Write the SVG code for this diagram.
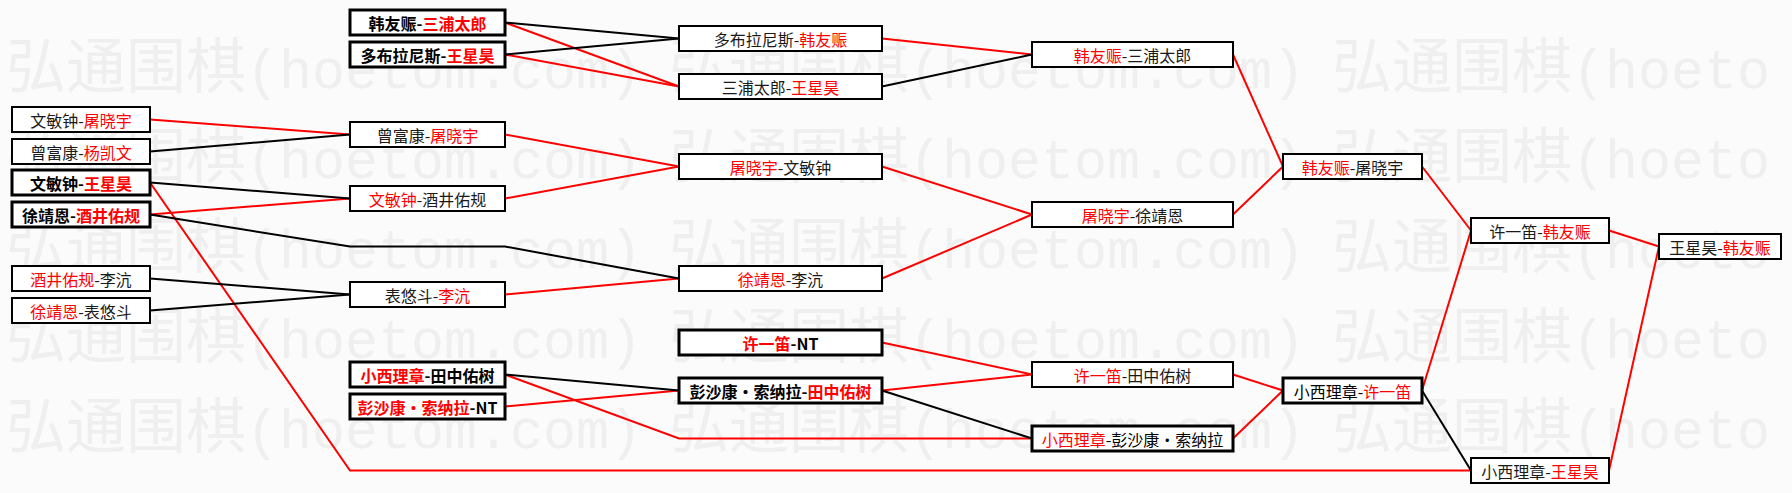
<svg xmlns="http://www.w3.org/2000/svg" width="1792" height="493" viewBox="0 0 1792 493">
<style>
.bg{fill:#fbfbfb}
.wm{fill:#efefef;font-family:"Noto Sans CJK SC",sans-serif;font-size:60px}
.wm .a{font-family:"Liberation Mono",monospace;font-size:55px}
.box{fill:#fff;stroke:#000;stroke-width:2}
.thick .box{stroke-width:3}
.lbl{font-family:"Noto Sans CJK SC",sans-serif;font-size:16px;text-anchor:middle;fill:#1a1a1a}
.thick .lbl{fill:#000}
.bold .lbl{font-weight:bold}
.r{fill:#f00}
.k{fill:none;stroke:#000;stroke-width:2}
.rd{fill:none;stroke:#f00;stroke-width:2}
</style>
<rect class="bg" x="0" y="0" width="1792" height="493"/>
<g id="watermark" class="wm">
<text y="88"><tspan x="6">弘通围棋</tspan><tspan class="a">(hoetom.com)</tspan><tspan x="669">弘通围棋</tspan><tspan class="a">(hoetom.com)</tspan><tspan x="1332">弘通围棋</tspan><tspan class="a">(hoeto</tspan></text>
<text y="178"><tspan x="6">弘通围棋</tspan><tspan class="a">(hoetom.com)</tspan><tspan x="669">弘通围棋</tspan><tspan class="a">(hoetom.com)</tspan><tspan x="1332">弘通围棋</tspan><tspan class="a">(hoeto</tspan></text>
<text y="268"><tspan x="6">弘通围棋</tspan><tspan class="a">(hoetom.com)</tspan><tspan x="669">弘通围棋</tspan><tspan class="a">(hoetom.com)</tspan><tspan x="1332">弘通围棋</tspan><tspan class="a">(hoeto</tspan></text>
<text y="358"><tspan x="6">弘通围棋</tspan><tspan class="a">(hoetom.com)</tspan><tspan x="669">弘通围棋</tspan><tspan class="a">(hoetom.com)</tspan><tspan x="1332">弘通围棋</tspan><tspan class="a">(hoeto</tspan></text>
<text y="448"><tspan x="6">弘通围棋</tspan><tspan class="a">(hoetom.com)</tspan><tspan x="669">弘通围棋</tspan><tspan class="a">(hoetom.com)</tspan><tspan x="1332">弘通围棋</tspan><tspan class="a">(hoeto</tspan></text>
</g>
<g id="connectors">
<path class="rd" d="M150 119.5L350 134.5"/>
<path class="rd" d="M150 214.5L350 198.5"/>
<path class="rd" d="M150 182.5L350 470.5L1471 470.5"/>
<path class="rd" d="M505 22.5L679 86.5"/>
<path class="rd" d="M505 54.5L679 86.5"/>
<path class="rd" d="M505 134.5L679 166.5"/>
<path class="rd" d="M505 198.5L679 166.5"/>
<path class="rd" d="M505 294.5L679 278.5"/>
<path class="rd" d="M505 374.5L679 438.5L1032 438.5"/>
<path class="rd" d="M505 406.5L679 390.5"/>
<path class="rd" d="M882 38.5L1032 54.5"/>
<path class="rd" d="M882 166.5L1032 214.5"/>
<path class="rd" d="M882 278.5L1032 214.5"/>
<path class="rd" d="M882 342.5L1032 374.5"/>
<path class="rd" d="M882 390.5L1032 374.5"/>
<path class="rd" d="M1233 54.5L1283 166.5"/>
<path class="rd" d="M1233 214.5L1283 166.5"/>
<path class="rd" d="M1233 374.5L1283 390.5"/>
<path class="rd" d="M1233 438.5L1283 390.5"/>
<path class="rd" d="M1422 166.5L1471 230.5"/>
<path class="rd" d="M1422 390.5L1471 230.5"/>
<path class="rd" d="M1609 230.5L1659 246.5"/>
<path class="rd" d="M1609 470.5L1659 246.5"/>
<path class="k" d="M150 151.5L350 134.5"/>
<path class="k" d="M150 182.5L350 198.5"/>
<path class="k" d="M150 214.5L350 246.5L505 246.5L679 278.5"/>
<path class="k" d="M150 278.5L350 294.5"/>
<path class="k" d="M150 310.5L350 294.5"/>
<path class="k" d="M505 22.5L679 38.5"/>
<path class="k" d="M505 54.5L679 38.5"/>
<path class="k" d="M505 374.5L679 390.5"/>
<path class="k" d="M882 86.5L1032 54.5"/>
<path class="k" d="M882 390.5L1032 438.5"/>
<path class="k" d="M1422 390.5L1471 470.5"/>
</g>
<g id="A1"><rect class="box" x="12" y="107" width="138" height="25"/><text class="lbl" x="81" y="127">文敏钟-<tspan class="r">屠晓宇</tspan></text></g>
<g id="A2"><rect class="box" x="12" y="139" width="138" height="25"/><text class="lbl" x="81" y="159">曾富康-<tspan class="r">杨凯文</tspan></text></g>
<g id="A3" class="thick bold"><rect class="box" x="12" y="170" width="138" height="25"/><text class="lbl" x="81" y="190">文敏钟-<tspan class="r">王星昊</tspan></text></g>
<g id="A4" class="thick bold"><rect class="box" x="12" y="202" width="138" height="25"/><text class="lbl" x="81" y="222">徐靖恩-<tspan class="r">酒井佑规</tspan></text></g>
<g id="A5"><rect class="box" x="12" y="266" width="138" height="25"/><text class="lbl" x="81" y="286"><tspan class="r">酒井佑规</tspan>-李沆</text></g>
<g id="A6"><rect class="box" x="12" y="298" width="138" height="25"/><text class="lbl" x="81" y="318"><tspan class="r">徐靖恩</tspan>-表悠斗</text></g>
<g id="B1" class="thick bold"><rect class="box" x="350" y="10" width="155" height="25"/><text class="lbl" x="427.5" y="30">韩友赈-<tspan class="r">三浦太郎</tspan></text></g>
<g id="B2" class="thick bold"><rect class="box" x="350" y="42" width="155" height="25"/><text class="lbl" x="427.5" y="62">多布拉尼斯-<tspan class="r">王星昊</tspan></text></g>
<g id="B3"><rect class="box" x="350" y="122" width="155" height="25"/><text class="lbl" x="427.5" y="142">曾富康-<tspan class="r">屠晓宇</tspan></text></g>
<g id="B4"><rect class="box" x="350" y="186" width="155" height="25"/><text class="lbl" x="427.5" y="206"><tspan class="r">文敏钟</tspan>-酒井佑规</text></g>
<g id="B5"><rect class="box" x="350" y="282" width="155" height="25"/><text class="lbl" x="427.5" y="302">表悠斗-<tspan class="r">李沆</tspan></text></g>
<g id="B6" class="thick bold"><rect class="box" x="350" y="362" width="155" height="25"/><text class="lbl" x="427.5" y="382"><tspan class="r">小西理章</tspan>-田中佑树</text></g>
<g id="B7" class="thick bold"><rect class="box" x="350" y="394" width="155" height="25"/><text class="lbl" x="427.5" y="414"><tspan class="r">彭沙康·索纳拉</tspan>-NT</text></g>
<g id="C1"><rect class="box" x="679" y="26" width="203" height="25"/><text class="lbl" x="780.5" y="46">多布拉尼斯-<tspan class="r">韩友赈</tspan></text></g>
<g id="C2"><rect class="box" x="679" y="74" width="203" height="25"/><text class="lbl" x="780.5" y="94">三浦太郎-<tspan class="r">王星昊</tspan></text></g>
<g id="C3"><rect class="box" x="679" y="154" width="203" height="25"/><text class="lbl" x="780.5" y="174"><tspan class="r">屠晓宇</tspan>-文敏钟</text></g>
<g id="C4"><rect class="box" x="679" y="266" width="203" height="25"/><text class="lbl" x="780.5" y="286"><tspan class="r">徐靖恩</tspan>-李沆</text></g>
<g id="C5" class="thick bold"><rect class="box" x="679" y="330" width="203" height="25"/><text class="lbl" x="780.5" y="350"><tspan class="r">许一笛</tspan>-NT</text></g>
<g id="C6" class="thick bold"><rect class="box" x="679" y="378" width="203" height="25"/><text class="lbl" x="780.5" y="398">彭沙康·索纳拉-<tspan class="r">田中佑树</tspan></text></g>
<g id="D1"><rect class="box" x="1032" y="42" width="201" height="25"/><text class="lbl" x="1132.5" y="62"><tspan class="r">韩友赈</tspan>-三浦太郎</text></g>
<g id="D2"><rect class="box" x="1032" y="202" width="201" height="25"/><text class="lbl" x="1132.5" y="222"><tspan class="r">屠晓宇</tspan>-徐靖恩</text></g>
<g id="D3"><rect class="box" x="1032" y="362" width="201" height="25"/><text class="lbl" x="1132.5" y="382"><tspan class="r">许一笛</tspan>-田中佑树</text></g>
<g id="D4" class="thick"><rect class="box" x="1032" y="426" width="201" height="25"/><text class="lbl" x="1132.5" y="446"><tspan class="r">小西理章</tspan>-彭沙康·索纳拉</text></g>
<g id="E1"><rect class="box" x="1283" y="154" width="139" height="25"/><text class="lbl" x="1352.5" y="174"><tspan class="r">韩友赈</tspan>-屠晓宇</text></g>
<g id="E2" class="thick"><rect class="box" x="1283" y="378" width="139" height="25"/><text class="lbl" x="1352.5" y="398">小西理章-<tspan class="r">许一笛</tspan></text></g>
<g id="F1"><rect class="box" x="1471" y="218" width="138" height="25"/><text class="lbl" x="1540" y="238">许一笛-<tspan class="r">韩友赈</tspan></text></g>
<g id="F2"><rect class="box" x="1471" y="458" width="138" height="25"/><text class="lbl" x="1540" y="478">小西理章-<tspan class="r">王星昊</tspan></text></g>
<g id="G1"><rect class="box" x="1659" y="234" width="122" height="25"/><text class="lbl" x="1720" y="254">王星昊-<tspan class="r">韩友赈</tspan></text></g>
</svg>
